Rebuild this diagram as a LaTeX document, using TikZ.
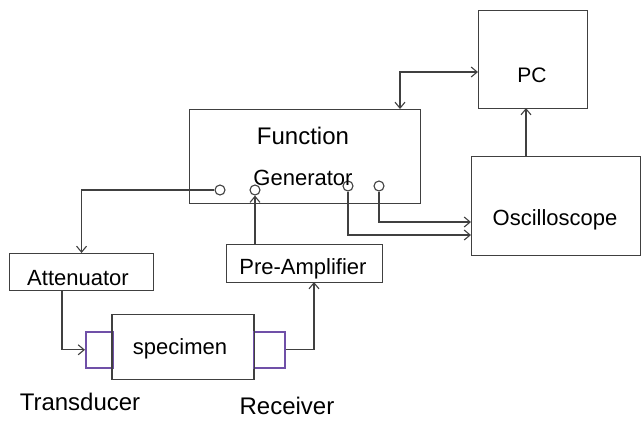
\documentclass[tikz,border=0pt]{standalone}
\usepackage{fontspec}
\setmainfont{Liberation Sans}
\usetikzlibrary{arrows.meta}
\definecolor{lc}{HTML}{404040}
\definecolor{pur}{HTML}{7050A8}
\begin{document}
\begin{tikzpicture}[x=1pt,y=-1pt,
  line/.style={draw=lc, line width=1.1pt},
  arr/.style={line, -{Straight Barb[length=6pt,width=10pt]}},
  dbl/.style={line, {Straight Barb[length=6pt,width=10pt]}-{Straight Barb[length=6pt,width=10pt]}},
  box/.style={line, rectangle, inner sep=0pt, anchor=north west},
  pbox/.style={box, draw=pur, line width=1.6pt},
  port/.style={line, circle, minimum size=10pt, inner sep=0pt, fill=white},
  lbl/.style={text=black, inner sep=0pt}]
\useasboundingbox (0,0) rectangle (641,421);
% boxes
\node[box, minimum width=231pt, minimum height=94pt] (fg) at (189,109) {};
\node[box, minimum width=109pt, minimum height=98pt] (pc) at (478,10) {};
\node[box, minimum width=169pt, minimum height=99pt] (osc) at (471,156) {};
\node[box, minimum width=144pt, minimum height=37pt] (att) at (9,253) {};
\node[box, minimum width=156pt, minimum height=38pt] (pre) at (226,244) {};
\node[box, minimum width=141pt, minimum height=65pt] (spec) at (112,314) {};
\node[pbox, minimum width=27pt, minimum height=36pt] (tr) at (85,331) {};
\node[pbox, minimum width=31pt, minimum height=36pt] (rc) at (253,331) {};
\draw[line] (spec.north west) -- (spec.south west) (spec.north east) -- (spec.south east);
% ports
\node[port] (c1) at (220,190) {};
\node[port] (c2) at (255,190) {};
\node[port] (c3) at (348,186) {};
\node[port] (c4) at (379,186) {};
% labels
\node[lbl, font=\fontsize{24}{26}\selectfont] (tfun) at (303,136) {Function};
\node[lbl, font=\fontsize{22}{24}\selectfont] (tgen) at (303,178) {Generator};
\node[lbl, font=\fontsize{21}{23}\selectfont] (tpc) at (532,75) {PC};
\node[lbl, font=\fontsize{22}{24}\selectfont] (tosc) at (555,220) {Oscilloscope};
\node[lbl, font=\fontsize{22}{24}\selectfont] (tatt) at (78,278) {Attenuator};
\node[lbl, font=\fontsize{22}{24}\selectfont] (tpre) at (303,269) {Pre-Amplifier};
\node[lbl, font=\fontsize{22}{24}\selectfont] (tspec) at (180,349) {specimen};
\node[lbl, font=\fontsize{24}{26}\selectfont] (ttr) at (80,402) {Transducer};
\node[lbl, font=\fontsize{24}{26}\selectfont] (trc) at (287,406) {Receiver};
% connector coordinates
\coordinate (fgin) at (400,109);
\coordinate (pcin) at (478,72);
\coordinate (o1) at (471,222);
\coordinate (o2) at (471,235);
\coordinate (oscout) at (526,156);
\coordinate (pcout) at (526,108);
\coordinate (attout) at (62,290);
\coordinate (prein) at (314,282);
% connectors
\draw[dbl] (fgin) |- (pcin);
\draw[arr] (c1.west) -| (att.north);
\draw[arr] (pre.north -| c2) -- (c2.south);
\draw[arr] (c4.south) |- (o1);
\draw[arr] (c3.south) |- (o2);
\draw[arr] (oscout) -- (pcout);
\draw[arr] (attout) |- (tr.west);
\draw[arr] (rc.east) -| (prein);
\end{tikzpicture}
\end{document}
